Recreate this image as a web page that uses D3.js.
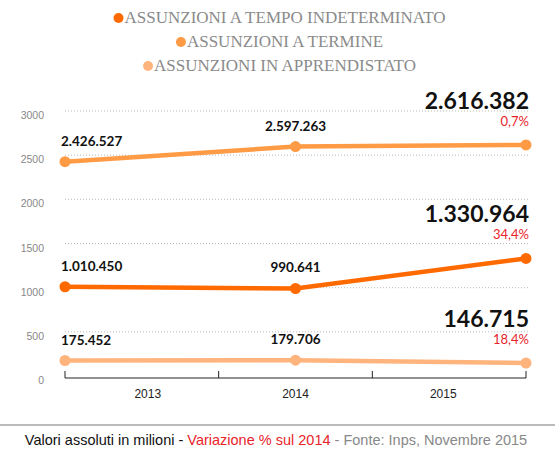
<!DOCTYPE html>
<html><head><meta charset="utf-8">
<script src="https://cdn.jsdelivr.net/npm/d3@7"></script>
<style>body{margin:0;background:#fff}</style>
</head><body><svg id="c" width="555" height="460"></svg>
<script>
const years = ['2013', '2014', '2015'];
const seriesNames = ['ASSUNZIONI A TEMPO INDETERMINATO', 'ASSUNZIONI A TERMINE', 'ASSUNZIONI IN APPRENDISTATO'];
const indeterminato = [1010450, 990641, 1330964];
const termine = [2426527, 2597263, 2616382];
const apprendistato = [175452, 179706, 146715];
const variazione = ['34,4%', '0,7%', '18,4%'];
const yTicks = [0, 500, 1000, 1500, 2000, 2500, 3000];
const colors = ['#ff6a00', '#ff9a45', '#ffb47d'];

const series = [indeterminato, termine, apprendistato];
const fmt = v => d3.format(',')(v).replace(/,/g, '.');
const svg = d3.select('#c');

/* legend */
seriesNames.forEach((n, i) => {
  const g = svg.append('g');
  const t = g.append('text').attr('x', 285).attr('y', 23 + i * 24).attr('text-anchor', 'middle')
    .attr('font-family', 'Liberation Serif').attr('font-size', 17).attr('fill', '#8a8a8a').text(n);
  const w = t.node().getComputedTextLength();
  g.append('circle').attr('cx', 285 - w / 2 - 6).attr('cy', 18 + i * 24).attr('r', 5).attr('fill', colors[i]);
});

const x = d3.scalePoint().domain(years).range([65, 526]);
const xLab = d3.scalePoint().domain(years).range([65, 526]).padding(0.56);
const y = d3.scaleLinear().domain([0, 3000]).range([376, 111]);

/* grid + y labels */
yTicks.forEach(t => {
  if (t > 0) svg.append('line').attr('x1', 65).attr('x2', 530).attr('y1', y(t)).attr('y2', y(t))
    .attr('stroke', '#bbb').attr('stroke-dasharray', '1,2');
  svg.append('text').attr('x', 44).attr('y', y(t) + 8).attr('text-anchor', 'end')
    .attr('font-family', 'Liberation Sans').attr('font-size', 10.5).attr('fill', '#888').text(t);
});

/* x axis */
const xAxis = svg.append('g').attr('transform', 'translate(0,378)');
xAxis.append('line').attr('x1', 65).attr('x2', 526).attr('stroke', '#222');
d3.range(4).forEach(i => xAxis.append('line').attr('x1', 65 + i * 461 / 3).attr('x2', 65 + i * 461 / 3)
  .attr('y1', -7).attr('y2', 0).attr('stroke', '#222'));
years.forEach(yr => xAxis.append('text').attr('x', xLab(yr)).attr('y', 20).attr('text-anchor', 'middle')
  .attr('font-family', 'Liberation Sans').attr('font-size', 12).attr('fill', '#222').text(yr));

/* lines */
const line = d3.line().x((d, i) => x(years[i])).y(d => y(d / 1000));
series.forEach((s, k) => {
  svg.append('path').attr('d', line(s)).attr('fill', 'none').attr('stroke', colors[k]).attr('stroke-width', 4.5);
  s.forEach((v, i) => {
    svg.append('circle').attr('cx', x(years[i])).attr('cy', y(v / 1000)).attr('r', 5.5).attr('fill', colors[k]);
    if (i < 2) {
      svg.append('text').attr('x', x(years[i]) + (i === 0 ? -4 : 0)).attr('y', y(v / 1000) - 16)
        .attr('text-anchor', i === 0 ? 'start' : 'middle').attr('font-family', 'Lato').attr('font-weight', 'bold')
        .attr('font-size', 13.5).attr('fill', '#111').text(fmt(v));
    } else {
      svg.append('text').attr('x', 529).attr('y', y(v / 1000) - 36).attr('text-anchor', 'end')
        .attr('font-family', 'Lato').attr('font-weight', 'bold').attr('font-size', 23).attr('fill', '#111').text(fmt(v));
      svg.append('text').attr('x', 529).attr('y', y(v / 1000) - 19).attr('text-anchor', 'end')
        .attr('font-family', 'Lato').attr('font-size', 13).attr('fill', '#e8232a').text(variazione[k]);
    }
  });
});

/* footer */
svg.append('line').attr('x1', 0).attr('x2', 555).attr('y1', 425).attr('y2', 425).attr('stroke', '#bbb').attr('stroke-width', 2);
const f = svg.append('text').attr('x', 276).attr('y', 445).attr('text-anchor', 'middle')
  .attr('font-family', 'Liberation Sans').attr('font-size', 14.5);
f.append('tspan').attr('fill', '#111').text('Valori assoluti in milioni - ');
f.append('tspan').attr('fill', '#e8232a').text('Variazione % sul 2014');
f.append('tspan').attr('fill', '#888').text(' - Fonte: Inps, Novembre 2015');
</script></body></html>
